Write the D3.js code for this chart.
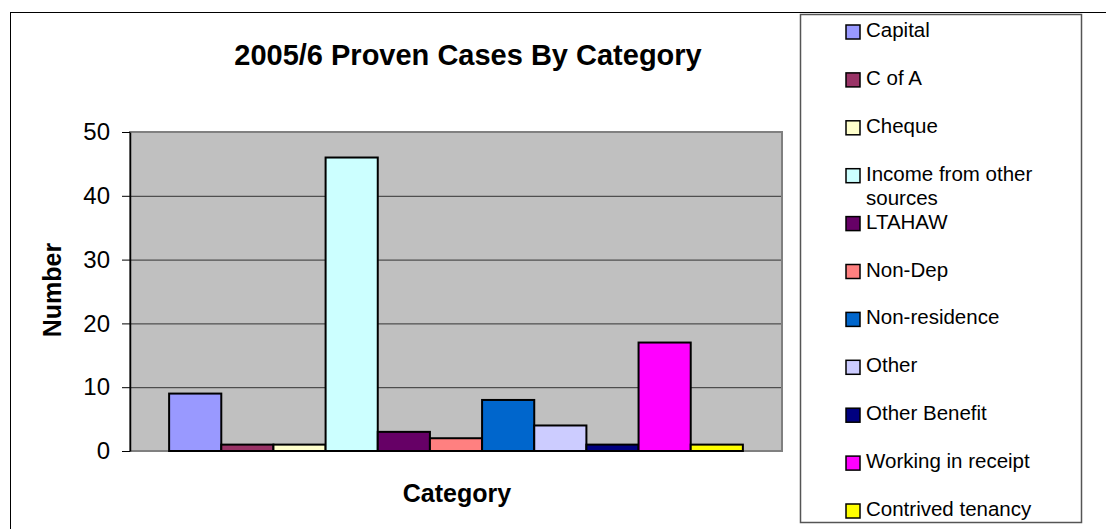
<!DOCTYPE html>
<html>
<head>
<meta charset="utf-8">
<script src="https://cdn.jsdelivr.net/npm/d3@7"></script>
<style>
  html, body { margin: 0; padding: 0; background: #fff; }
  svg { display: block; font-family: "Liberation Sans", Arial, sans-serif; }
</style>
</head>
<body>
<svg id="chart" width="1106" height="529"></svg>
<script>
// Proven cases for 2005/6, one bar per category
const categories = [
  "Capital", "C of A", "Cheque", "Income from other sources", "LTAHAW",
  "Non-Dep", "Non-residence", "Other", "Other Benefit",
  "Working in receipt", "Contrived tenancy"
];
const counts = [9, 1, 1, 46, 3, 2, 8, 4, 1, 17, 1];
const colors = [
  "#9999FF", "#993366", "#FFFFCC", "#CCFFFF", "#660066",
  "#FF8080", "#0066CC", "#CCCCFF", "#000080", "#FF00FF", "#FFFF00"
];
const yTicks = [0, 10, 20, 30, 40, 50];
// legend lines (wrapped labels split onto two lines)
const legendLines = [
  ["Capital"], ["C of A"], ["Cheque"], ["Income from other", "sources"], ["LTAHAW"],
  ["Non-Dep"], ["Non-residence"], ["Other"], ["Other Benefit"],
  ["Working in receipt"], ["Contrived tenancy"]
];

const FONT = "'Liberation Sans', Arial, sans-serif";
const svg = d3.select("#chart");

// outer chart frame
svg.append("rect")
  .attr("x", 10.5).attr("y", 12.5)
  .attr("width", 1200).attr("height", 600)
  .attr("fill", "#fff").attr("stroke", "#000").attr("stroke-width", 1);

const plot = { left: 130, right: 782, top: 132, bottom: 451 };

const x = d3.scaleBand()
  .domain(categories)
  .range([plot.left, plot.right])
  .paddingInner(0)
  .paddingOuter(0.75);

const y = d3.scaleLinear()
  .domain([0, 50])
  .range([plot.bottom, plot.top]);

// plot background
svg.append("rect")
  .attr("x", plot.left).attr("y", plot.top)
  .attr("width", plot.right - plot.left).attr("height", plot.bottom - plot.top)
  .attr("fill", "#C0C0C0");

// horizontal gridlines
svg.append("g")
  .attr("transform", `translate(${plot.left},0)`)
  .call(d3.axisLeft(y).tickValues(yTicks.filter(t => t > 0 && t < 50))
    .tickSize(-(plot.right - plot.left)).tickFormat(""))
  .call(g => g.select(".domain").remove())
  .call(g => g.selectAll("line").attr("stroke", "#333").attr("stroke-width", 1));

// plot area border
svg.append("rect")
  .attr("x", plot.left).attr("y", plot.top)
  .attr("width", plot.right - plot.left).attr("height", plot.bottom - plot.top)
  .attr("fill", "none").attr("stroke", "#808080").attr("stroke-width", 2);

// bars
svg.append("g")
  .selectAll("rect")
  .data(categories)
  .join("rect")
  .attr("x", d => x(d))
  .attr("y", (d, i) => y(counts[i]))
  .attr("width", x.bandwidth())
  .attr("height", (d, i) => y(0) - y(counts[i]))
  .attr("fill", (d, i) => colors[i])
  .attr("stroke", "#000")
  .attr("stroke-width", 2);

// y axis
const yAxis = svg.append("g")
  .attr("transform", `translate(${plot.left},0)`)
  .call(d3.axisLeft(y).tickValues(yTicks).tickSize(8).tickPadding(12).tickSizeOuter(0))
  .call(g => g.selectAll("line").attr("stroke", "#000"))
  .call(g => g.select(".domain").attr("stroke", "#000").attr("stroke-width", 1.5));
yAxis.selectAll("text")
  .attr("font-family", FONT)
  .attr("font-size", 24)
  .attr("fill", "#000");

// title
svg.append("text")
  .attr("x", 468).attr("y", 65)
  .attr("text-anchor", "middle")
  .attr("font-family", FONT)
  .attr("font-size", 29).attr("font-weight", "bold")
  .text("2005/6 Proven Cases By Category");

// axis titles
svg.append("text")
  .attr("transform", "translate(61,290) rotate(-90)")
  .attr("text-anchor", "middle")
  .attr("font-family", FONT)
  .attr("font-size", 25).attr("font-weight", "bold")
  .text("Number");

svg.append("text")
  .attr("x", 457).attr("y", 502)
  .attr("text-anchor", "middle")
  .attr("font-family", FONT)
  .attr("font-size", 25).attr("font-weight", "bold")
  .text("Category");

// legend
svg.append("rect")
  .attr("x", 800.5).attr("y", 14.5)
  .attr("width", 281).attr("height", 508)
  .attr("fill", "#fff").attr("stroke", "#555").attr("stroke-width", 1.5);

const legendY = d3.scaleLinear().domain([0, 10]).range([37, 516]);
const items = svg.append("g")
  .selectAll("g")
  .data(categories)
  .join("g")
  .attr("transform", (d, i) => `translate(0,${legendY(i)})`);

items.append("rect")
  .attr("x", 846).attr("y", -12)
  .attr("width", 14).attr("height", 14)
  .attr("fill", (d, i) => colors[i])
  .attr("stroke", "#000").attr("stroke-width", 1.5);

items.append("text")
  .attr("font-family", FONT)
  .attr("font-size", 20.5)
  .attr("fill", "#000")
  .selectAll("tspan")
  .data((d, i) => legendLines[i])
  .join("tspan")
  .attr("x", 866)
  .attr("y", (d, j) => j * 24)
  .text(d => d);
</script>
</body>
</html>
